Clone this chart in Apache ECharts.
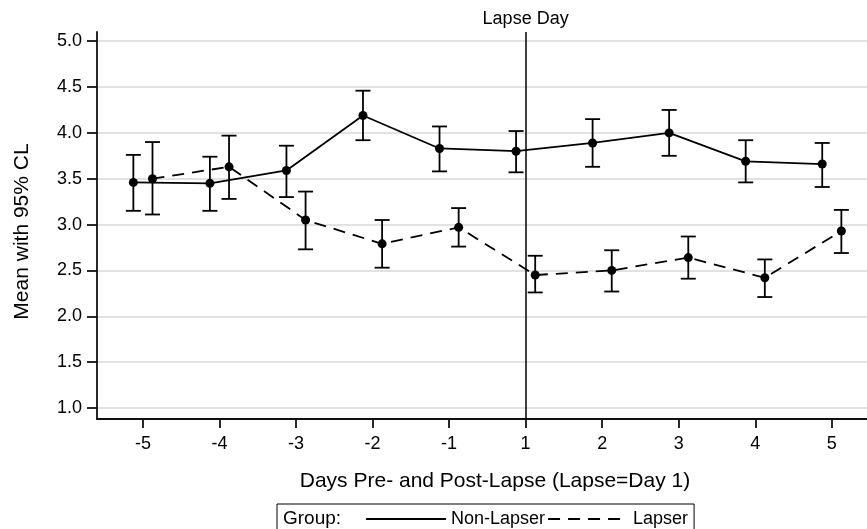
<!DOCTYPE html>
<html>
<head>
<meta charset="utf-8">
<script src="https://cdn.jsdelivr.net/npm/echarts@6/dist/echarts.min.js"></script>
<style>
    html, body { margin: 0; padding: 0; background: #fff; }
    #chart { width: 867px; height: 529px; }
</style>
</head>
<body>
<div id="chart"></div>
<script>
// day labels on the x axis (index 0..9)
let days = ['-5', '-4', '-3', '-2', '-1', '1', '2', '3', '4', '5'];
let yTicks = [1.0, 1.5, 2.0, 2.5, 3.0, 3.5, 4.0, 4.5, 5.0];

// Non-Lapser: mean with 95% CL
let nonLapserMean = [3.46, 3.45, 3.59, 4.19, 3.83, 3.80, 3.89, 4.00, 3.69, 3.66];
let nonLapserLow  = [3.15, 3.15, 3.30, 3.92, 3.58, 3.57, 3.63, 3.75, 3.46, 3.41];
let nonLapserHigh = [3.76, 3.74, 3.86, 4.46, 4.07, 4.02, 4.15, 4.25, 3.92, 3.89];

// Lapser: mean with 95% CL
let lapserMean = [3.50, 3.63, 3.05, 2.79, 2.97, 2.45, 2.50, 2.64, 2.42, 2.93];
let lapserLow  = [3.11, 3.28, 2.73, 2.53, 2.76, 2.26, 2.27, 2.41, 2.21, 2.69];
let lapserHigh = [3.90, 3.97, 3.36, 3.05, 3.18, 2.66, 2.72, 2.87, 2.62, 3.16];

let lapseDayIndex = days.indexOf('1');

let FONT = "'Liberation Sans', Arial, sans-serif";
let shift = 0.125;   // groups are drawn a little apart

function buildPoints(mean, dx) {
    let pts = [];
    for (let i = 0; i < mean.length; i++) {
        pts.push([i + dx, mean[i]]);
    }
    return pts;
}

function buildBars(low, high, dx) {
    let bars = [];
    for (let i = 0; i < low.length; i++) {
        bars.push([i + dx, low[i], high[i]]);
    }
    return bars;
}

function renderErrorBar(params, api) {
    let x = api.value(0);
    let lo = api.coord([x, api.value(1)]);
    let hi = api.coord([x, api.value(2)]);
    let w = 7.5;
    let style = {stroke: '#000', lineWidth: 1.8};
    return {
        type: 'group',
        children: [
            {type: 'line', shape: {x1: lo[0], y1: lo[1], x2: hi[0], y2: hi[1]}, style: style},
            {type: 'line', shape: {x1: lo[0] - w, y1: lo[1], x2: lo[0] + w, y2: lo[1]}, style: style},
            {type: 'line', shape: {x1: hi[0] - w, y1: hi[1], x2: hi[0] + w, y2: hi[1]}, style: style}
        ]
    };
}

let myChart = echarts.init(document.getElementById('chart'));

let option = {
    animation: false,
    backgroundColor: '#fff',
    textStyle: {fontFamily: FONT, color: '#000'},
    grid: {left: 97, right: 0, top: 32, bottom: 110, containLabel: false},
    xAxis: {
        type: 'value',
        min: -0.6,
        max: 9.46,
        axisLine: {show: true, onZero: false, lineStyle: {color: '#111', width: 1.8}},
        axisTick: {show: true, length: 9, lineStyle: {color: '#111', width: 1.8}, customValues: [0, 1, 2, 3, 4, 5, 6, 7, 8, 9]},
        axisLabel: {
            customValues: [0, 1, 2, 3, 4, 5, 6, 7, 8, 9],
            margin: 16,
            fontSize: 18,
            fontFamily: FONT,
            color: '#000',
            formatter: function (v) {
                return days[Math.round(v)];
            }
        },
        splitLine: {show: false}
    },
    yAxis: {
        type: 'value',
        min: 0.88,
        max: 5.1,
        name: 'Mean with 95% CL',
        nameLocation: 'middle',
        nameGap: 64,
        nameTextStyle: {fontSize: 21, fontFamily: FONT, color: '#000', padding: [0, 0, 0, -12]},
        axisLine: {show: true, onZero: false, lineStyle: {color: '#111', width: 1.8}},
        axisTick: {show: true, length: 10, lineStyle: {color: '#111', width: 1.8}, customValues: yTicks},
        axisLabel: {
            customValues: yTicks,
            margin: 15,
            fontSize: 18,
            fontFamily: FONT,
            color: '#000',
            formatter: function (v) {
                return v.toFixed(1);
            }
        },
        splitLine: {show: true, lineStyle: {color: '#d9d9d9', width: 1.5}}
    },
    legend: {
        data: ['Non-Lapser', 'Lapser'],
        left: 277,
        top: 504,
        orient: 'horizontal',
        padding: [6, 6, 12, 88],
        itemWidth: 80,
        itemHeight: 18,
        itemGap: 2,
        borderColor: '#000',
        borderWidth: 1,
        selectedMode: false,
        itemStyle: {opacity: 0},
        textStyle: {fontSize: 18, fontFamily: FONT, color: '#000'}
    },
    graphic: [
        {
            type: 'text',
            x: 495,
            y: 481,
            style: {
                text: 'Days Pre- and Post-Lapse (Lapse=Day 1)',
                fontSize: 21,
                fontFamily: FONT,
                fill: '#000',
                align: 'center',
                verticalAlign: 'middle'
            }
        },
        {
            type: 'text',
            x: 283,
            y: 519,
            style: {
                text: 'Group:',
                fontSize: 19,
                fontFamily: FONT,
                fill: '#000',
                align: 'left',
                verticalAlign: 'middle'
            }
        }
    ],
    series: [
        {
            name: 'Non-Lapser',
            type: 'line',
            data: buildPoints(nonLapserMean, -shift),
            symbol: 'circle',
            symbolSize: 9,
            itemStyle: {color: '#000'},
            lineStyle: {color: '#000', width: 1.8, type: 'solid'},
            z: 3,
            markLine: {
                silent: true,
                symbol: ['none', 'none'],
                lineStyle: {color: '#000', width: 1.5, type: 'solid'},
                label: {
                    show: true,
                    position: 'end',
                    distance: 4,
                    formatter: 'Lapse Day',
                    fontSize: 18,
                    fontFamily: FONT,
                    color: '#000'
                },
                data: [{xAxis: lapseDayIndex}]
            }
        },
        {
            name: 'Lapser',
            type: 'line',
            data: buildPoints(lapserMean, shift),
            symbol: 'circle',
            symbolSize: 9,
            itemStyle: {color: '#000'},
            lineStyle: {color: '#000', width: 1.8, type: [12, 8]},
            z: 3
        },
        {
            name: 'Non-Lapser CL',
            type: 'custom',
            renderItem: renderErrorBar,
            data: buildBars(nonLapserLow, nonLapserHigh, -shift),
            encode: {x: 0, y: [1, 2]},
            z: 2
        },
        {
            name: 'Lapser CL',
            type: 'custom',
            renderItem: renderErrorBar,
            data: buildBars(lapserLow, lapserHigh, shift),
            encode: {x: 0, y: [1, 2]},
            z: 2
        }
    ]
};

myChart.setOption(option);
</script>
</body>
</html>
